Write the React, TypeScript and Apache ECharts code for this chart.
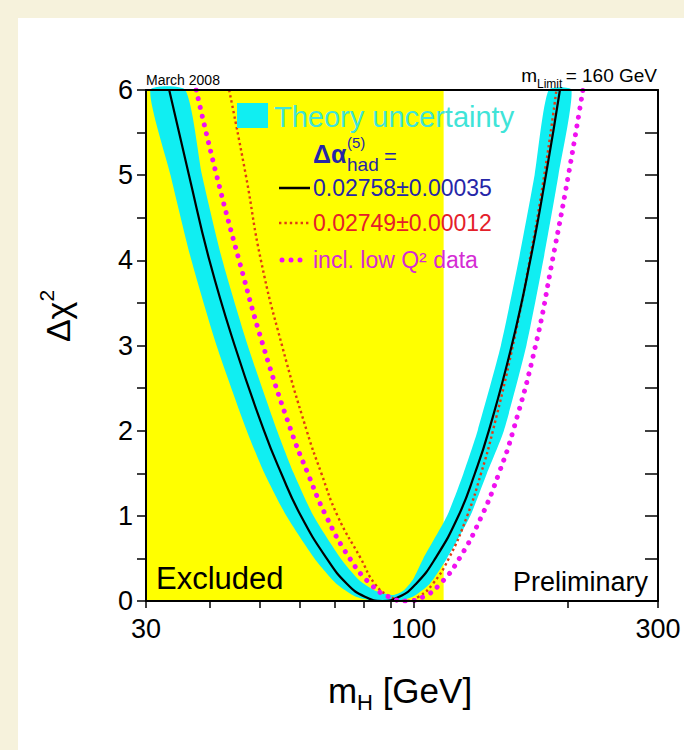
import React, { useEffect, useRef } from "react";
import * as echarts from "echarts";

// ---- axis ranges and ticks ----
const X_MIN = 30;
const X_MAX = 300;
const Y_MIN = 0;
const Y_MAX = 6;
const LEP_LIMIT = 114.4; // direct search exclusion (GeV)
const xTickValues = [30, 40, 50, 60, 70, 80, 90, 100, 200, 300];
const xLabelValues = [30, 100, 300];
const yTickValues = [0, 0.5, 1, 1.5, 2, 2.5, 3, 3.5, 4, 4.5, 5, 5.5, 6];

// ---- curves: [mH (GeV), delta chi2] ----
const centralCurve: number[][] = [
  [33.3, 6], [36.4, 5], [39.9, 4], [44.7, 3], [51.0, 2], [55.1, 1.5], [60.2, 1],
  [67.6, 0.5], [74.1, 0.2], [80.3, 0.05], [87, 0], [93.7, 0.05], [101, 0.2],
  [110.2, 0.5], [122.3, 1], [131.7, 1.5], [140.2, 2], [155.4, 3], [168.9, 4],
  [181.2, 5], [193, 6],
];
const altCurve: number[][] = [
  [43.6, 6], [47.0, 5], [50.3, 4], [55.3, 3], [61.8, 2], [66.0, 1.5], [71.0, 1],
  [78.8, 0.5], [84.0, 0.2], [90.0, 0.05], [96, 0], [102.2, 0.05], [108.9, 0.2],
  [117.1, 0.5], [127.2, 1], [135.4, 1.5], [142.8, 2], [156.2, 3], [168.4, 4],
  [179.9, 5], [190, 6],
];
const lowQ2Curve: number[][] = [
  [37.6, 6], [41.2, 5], [45.6, 4], [50.8, 3], [57.6, 2], [62.1, 1.5], [67.4, 1],
  [75.0, 0.5], [82.3, 0.2], [89.3, 0.05], [97, 0], [104.5, 0.05], [112.6, 0.2],
  [122.8, 0.5], [135.8, 1], [146.7, 1.5], [156.4, 2], [173.0, 3], [186.6, 4],
  [200.5, 5], [214, 6],
];
// theory-uncertainty band: outer (lower) and inner (upper) envelopes
const bandLower: number[][] = [
  [30.6, 6], [33.5, 5], [36.8, 4], [41.2, 3], [47.2, 2], [51.1, 1.5], [56.4, 1],
  [64.0, 0.5], [70.7, 0.2], [77.1, 0.05], [84.1, 0], [92.6, 0], [99.6, 0.05],
  [107.4, 0.2], [116.1, 0.5], [129.0, 1], [139.0, 1.5], [150.0, 2], [166.0, 3],
  [179.1, 4], [191.7, 5], [203.3, 6],
];
const bandUpper: number[][] = [
  [35.8, 6], [38.6, 5], [42.3, 4], [47.4, 3], [54.1, 2], [58.3, 1.5], [63.7, 1],
  [72.0, 0.5], [78.1, 0.25], [84.1, 0.12], [91.1, 0.07], [95.4, 0.12], [99.6, 0.25],
  [104.4, 0.5], [116.2, 1], [125.1, 1.5], [133.3, 2], [148.0, 3], [160.3, 4],
  [172.2, 5], [183.4, 6],
];

const FONT = "'Liberation Sans', Arial, Helvetica, sans-serif";
const CYAN = "#10EEF2";
const YELLOW = "#FFFF00";
const RED = "#E03C12";
const MAGENTA = "#F010F0";
const BLUE = "#2626A8";

function txt(
  text: string,
  x: number,
  y: number,
  size: number,
  fill: string,
  align: string = "left",
  extra: any = {}
) {
  return {
    type: "text",
    x,
    y,
    z: 100,
    style: {
      text,
      fill,
      fontSize: size,
      fontFamily: FONT,
      align,
      verticalAlign: "middle",
      textAlign: align,
      textVerticalAlign: "middle",
      ...extra,
    },
  };
}

export default function App() {
  const ref = useRef<HTMLDivElement>(null);

  useEffect(() => {
    if (!ref.current) return;
    const chart = echarts.init(ref.current, null, { renderer: "svg" });

    const axisCommon = {
      splitLine: { show: false },
      z: 10,
    };

    const option: any = {
      animation: false,
      backgroundColor: "#FFFFFF",
      grid: { left: 146, right: 26, top: 90, bottom: 149, containLabel: false },
      xAxis: [
        {
          ...axisCommon,
          type: "log",
          logBase: 10,
          min: X_MIN,
          max: X_MAX,
          position: "bottom",
          axisLine: { show: true, onZero: false, lineStyle: { color: "#000", width: 2 } },
          axisTick: {
            show: true,
            inside: false,
            length: 7,
            customValues: xTickValues,
            lineStyle: { color: "#000", width: 1.5 },
          },
          axisLabel: {
            show: true,
            customValues: xLabelValues,
            fontSize: 27,
            fontFamily: FONT,
            color: "#000",
            margin: 14,
          },
        },
        {
          ...axisCommon,
          type: "log",
          logBase: 10,
          min: X_MIN,
          max: X_MAX,
          position: "top",
          axisLine: { show: true, onZero: false, lineStyle: { color: "#000", width: 2 } },
          axisTick: { show: false },
          axisLabel: { show: false },
        },
      ],
      yAxis: [
        {
          ...axisCommon,
          type: "value",
          min: Y_MIN,
          max: Y_MAX,
          interval: 1,
          position: "left",
          axisLine: { show: true, onZero: false, lineStyle: { color: "#000", width: 2 } },
          axisTick: {
            show: true,
            inside: false,
            length: 9,
            customValues: yTickValues,
            lineStyle: { color: "#000", width: 1.5 },
          },
          axisLabel: {
            show: true,
            fontSize: 27,
            fontFamily: FONT,
            color: "#000",
            margin: 13,
          },
        },
        {
          ...axisCommon,
          type: "value",
          min: Y_MIN,
          max: Y_MAX,
          interval: 1,
          position: "right",
          axisLine: { show: true, onZero: false, lineStyle: { color: "#000", width: 2 } },
          axisTick: {
            show: true,
            inside: true,
            length: 13,
            customValues: yTickValues,
            lineStyle: { color: "#000", width: 1.5 },
          },
          axisLabel: { show: false },
        },
      ],
      series: [
        {
          name: "Excluded",
          type: "custom",
          xAxisIndex: 0,
          yAxisIndex: 0,
          z: 1,
          silent: true,
          data: [[X_MIN, Y_MIN]],
          renderItem: (_p: any, api: any) => {
            const a = api.coord([X_MIN, Y_MAX]);
            const b = api.coord([LEP_LIMIT, Y_MIN]);
            return {
              type: "rect",
              shape: { x: a[0], y: a[1], width: b[0] - a[0], height: b[1] - a[1] },
              style: { fill: YELLOW },
            };
          },
        },
        {
          name: "Theory uncertainty",
          type: "custom",
          xAxisIndex: 0,
          yAxisIndex: 0,
          z: 2,
          silent: true,
          data: [bandLower[0]],
          renderItem: (_p: any, api: any) => {
            const pts = bandLower
              .concat(bandUpper.slice().reverse())
              .map((p) => api.coord(p));
            return {
              type: "polygon",
              shape: { points: pts, smooth: 0.2 },
              style: { fill: CYAN },
            };
          },
        },
        {
          name: "0.02749±0.00012",
          type: "line",
          data: altCurve,
          smooth: true,
          showSymbol: false,
          symbol: "none",
          z: 3,
          lineStyle: { color: RED, width: 2.4, type: [2.4, 3] },
        },
        {
          name: "0.02758±0.00035",
          type: "line",
          data: centralCurve,
          smooth: true,
          showSymbol: false,
          symbol: "none",
          z: 4,
          lineStyle: { color: "#000", width: 2.2 },
        },
        {
          name: "incl. low Q² data",
          type: "line",
          data: lowQ2Curve,
          smooth: true,
          showSymbol: false,
          symbol: "none",
          z: 5,
          lineStyle: { color: MAGENTA, width: 5, type: [0.01, 9], cap: "round" },
        },
      ],
      graphic: {
        elements: [
          { type: "rect", z: 0, shape: { x: 0, y: 0, width: 684, height: 18 }, style: { fill: "#F6F2DC" } },
          { type: "rect", z: 0, shape: { x: 0, y: 0, width: 18, height: 750 }, style: { fill: "#F6F2DC" } },
          // header texts
          txt("March 2008", 146, 80, 14, "#000"),
          txt("m", 537, 75, 19, "#000", "right"),
          txt("Limit", 537, 84, 12, "#000"),
          txt("= 160 GeV", 657, 75, 19, "#000", "right"),
          // legend
          { type: "rect", z: 100, shape: { x: 237, y: 103, width: 31, height: 25 }, style: { fill: CYAN } },
          txt("Theory uncertainty", 274, 117, 29, "#3FE4D8"),
          txt("Δα", 313, 154, 25, BLUE, "left", { fontWeight: "bold" }),
          txt("(5)", 347, 142, 15, BLUE),
          txt("had", 347, 164, 19, BLUE),
          txt("=", 384, 156, 22, BLUE),
          {
            type: "line",
            z: 100,
            shape: { x1: 279, y1: 188, x2: 310, y2: 188 },
            style: { stroke: "#000", lineWidth: 2.5 },
          },
          txt("0.02758±0.00035", 313, 188, 23, BLUE),
          {
            type: "line",
            z: 100,
            shape: { x1: 279, y1: 223, x2: 310, y2: 223 },
            style: { stroke: RED, lineWidth: 2.4, lineDash: [2.4, 3] },
          },
          txt("0.02749±0.00012", 313, 223, 23, "#E4202A"),
          {
            type: "line",
            z: 100,
            shape: { x1: 282, y1: 260, x2: 305, y2: 260 },
            style: { stroke: MAGENTA, lineWidth: 5, lineDash: [0.01, 9], lineCap: "round" },
          },
          txt("incl. low Q² data", 313, 260, 23, "#D42CD4"),
          // in-plot labels
          txt("Excluded", 156, 578, 31, "#000"),
          txt("Preliminary", 648, 582, 27, "#000", "right"),
          // axis titles
          {
            type: "text",
            x: 400,
            y: 690,
            z: 100,
            style: {
              text: "{a|m}{s|H}{a| [GeV]}",
              align: "center",
              verticalAlign: "middle",
              textAlign: "center",
              textVerticalAlign: "middle",
              rich: {
                a: { fontSize: 35, fontFamily: FONT, fill: "#000", lineHeight: 46, verticalAlign: "middle" },
                s: { fontSize: 22, fontFamily: FONT, fill: "#000", lineHeight: 46, verticalAlign: "bottom" },
              },
            },
          },
          {
            type: "text",
            x: 58,
            y: 316,
            z: 100,
            rotation: Math.PI / 2,
            style: {
              text: "{a|Δχ}{s|2}",
              align: "center",
              verticalAlign: "middle",
              textAlign: "center",
              textVerticalAlign: "middle",
              rich: {
                a: { fontSize: 34, fontFamily: FONT, fill: "#000", lineHeight: 44, verticalAlign: "middle" },
                s: { fontSize: 21, fontFamily: FONT, fill: "#000", lineHeight: 44, verticalAlign: "top" },
              },
            },
          },
        ],
      },
    };

    chart.setOption(option);
    return () => chart.dispose();
  }, []);

  return (
    <div
      ref={ref}
      style={{ position: "fixed", left: 0, top: 0, width: 684, height: 750 }}
    />
  );
}
